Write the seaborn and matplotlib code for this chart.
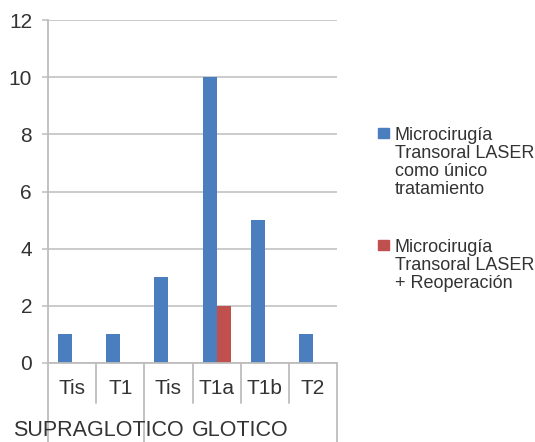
import matplotlib
matplotlib.use("Agg")
import matplotlib.pyplot as plt
from matplotlib.patches import Rectangle
from matplotlib.lines import Line2D
import seaborn as sns
import pandas as pd

# Stage categories along the x axis, grouped by tumour site
stages = ["Tis", "T1", "Tis", "T1a", "T1b", "T2"]
groups = ["SUPRAGLOTICO", "GLOTICO"]
group_sizes = [2, 4]

series_names = [
    "Microcirugía\nTransoral LASER\ncomo único\ntratamiento",
    "Microcirugía\nTransoral LASER\n+ Reoperación",
]
laser_only = [1, 1, 3, 10, 5, 1]
laser_reop = [0, 0, 0, 2, 0, 0]
colors = ["#4A7EBF", "#C0504D"]

y_ticks = [0, 2, 4, 6, 8, 10, 12]

sns.set_theme(style="white")
plt.rcParams["font.family"] = ["Liberation Sans", "DejaVu Sans"]

W, H = 535, 442
fig = plt.figure(figsize=(W / 100, H / 100), dpi=100)
ax = fig.add_axes([48 / W, (H - 363) / H, (337 - 48) / W, (363 - 20) / H])

pos = [f"{i}" for i in range(len(stages))]
df = pd.DataFrame({
    "pos": pos * 2,
    "value": laser_only + laser_reop,
    "serie": [series_names[0]] * len(stages) + [series_names[1]] * len(stages),
})
sns.barplot(data=df, x="pos", y="value", hue="serie", order=pos,
            hue_order=series_names, palette=colors, width=0.58,
            linewidth=0, saturation=1, legend=False, ax=ax)

grid_c = "#BDBDBD"
text_c = "#333333"
ax.set_xlim(-0.5, len(stages) - 0.5)
ax.set_ylim(0, 12)
ax.set_yticks(y_ticks)
ax.set_yticklabels([str(t) for t in y_ticks], fontsize=15, color=text_c)
ax.yaxis.grid(True, color=grid_c, linewidth=1.1)
ax.set_axisbelow(True)
ax.tick_params(axis="y", which="major", left=True, length=4.5, width=1.1,
               color=grid_c, pad=7)
ax.tick_params(axis="x", bottom=False, labelbottom=False)
ax.set_xlabel("")
ax.set_ylabel("")
for s in ["top", "right"]:
    ax.spines[s].set_visible(False)
for s in ["left", "bottom"]:
    ax.spines[s].set_color(grid_c)
    ax.spines[s].set_linewidth(1.3)

# Stage labels under each bar pair
trans = ax.get_xaxis_transform()
for i, lab in enumerate(stages):
    ax.text(i, -0.075, lab, transform=trans, ha="center", va="center",
            fontsize=15, color=text_c, clip_on=False)

# Separators between stages and between site groups
inner_bottom = -40 / 343
full_bottom = -79 / 343
edges = [-0.5]
acc = -0.5
for g in group_sizes:
    acc += g
    edges.append(acc)
for i in range(len(stages) + 1):
    x = i - 0.5
    y0 = full_bottom if x in edges else inner_bottom
    ax.add_line(Line2D([x, x], [0, y0], transform=trans, color=grid_c,
                       linewidth=1.3, clip_on=False))

# Site group labels
start = -0.5
for g, n, dx in zip(groups, group_sizes, [0.04, 0.0]):
    ax.text(start + n / 2 + dx, -0.196, g, transform=trans, ha="center",
            va="center", fontsize=15.5, color=text_c, clip_on=False)
    start += n

# Legend at the right
legend_tops = [128, 240]
for name, c, top in zip(series_names, colors, legend_tops):
    fig.patches.append(Rectangle((378 / W, 1 - (top + 10) / H), 11 / W, 10 / H,
                                 transform=fig.transFigure, color=c))
    fig.text(395 / W, 1 - (top - 1) / H, name, ha="left", va="top",
             fontsize=13, color=text_c, linespacing=1.08)

fig.savefig("out.png", dpi=100)
